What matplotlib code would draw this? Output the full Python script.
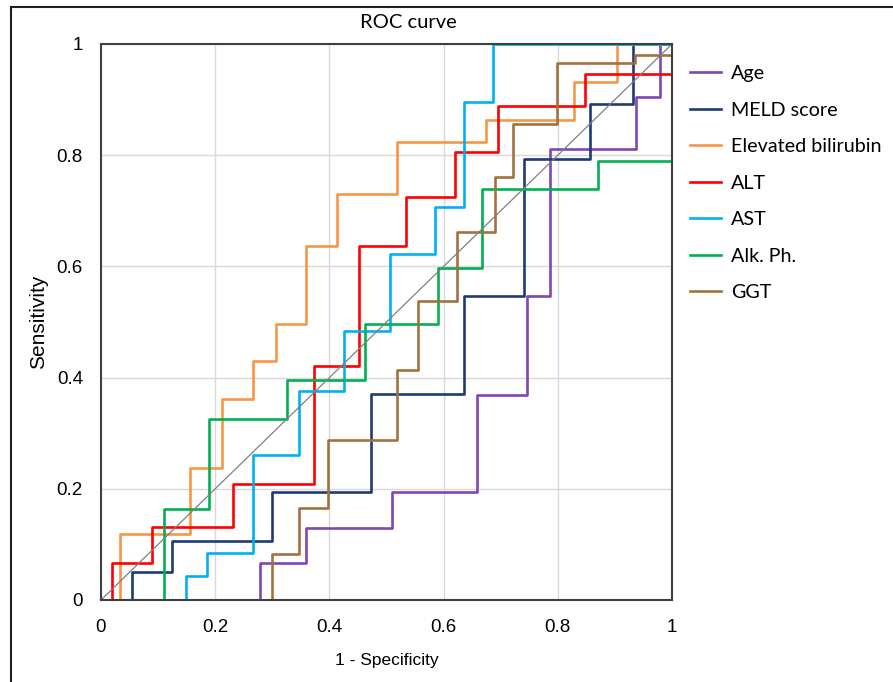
import numpy as np
import matplotlib.pyplot as plt
from matplotlib.lines import Line2D

# ROC step curves: x = 1 - specificity, y = sensitivity (steps-pre)
age_x = [0.278, 0.359, 0.51, 0.659, 0.746, 0.786, 0.937, 0.979, 1.0]
age_y = [0, 0.066, 0.13, 0.194, 0.369, 0.546, 0.812, 0.905, 1.0]

meld_x = [0.055, 0.125, 0.3, 0.473, 0.636, 0.741, 0.856, 0.931, 1.0]
meld_y = [0, 0.051, 0.106, 0.194, 0.371, 0.546, 0.793, 0.892, 1.0]

bili_x = [0.033, 0.156, 0.2125, 0.267, 0.306, 0.359, 0.413, 0.518, 0.674, 0.829, 0.903, 1.0]
bili_y = [0, 0.118, 0.237, 0.361, 0.43, 0.496, 0.637, 0.731, 0.824, 0.864, 0.932, 1.0]

alt_x = [0.02, 0.09, 0.232, 0.373, 0.452, 0.535, 0.62, 0.696, 0.848, 1.0]
alt_y = [0, 0.066, 0.132, 0.209, 0.42, 0.636, 0.725, 0.805, 0.888, 0.946]

ast_x = [0.148, 0.186, 0.266, 0.346, 0.426, 0.506, 0.585, 0.636, 0.687, 1.0]
ast_y = [0, 0.043, 0.084, 0.261, 0.376, 0.484, 0.622, 0.707, 0.896, 1.0]

alk_x = [0.111, 0.189, 0.325, 0.463, 0.591, 0.668, 0.871, 1.0]
alk_y = [0, 0.163, 0.325, 0.396, 0.496, 0.597, 0.739, 0.79]

ggt_x = [0.3, 0.347, 0.398, 0.519, 0.556, 0.623, 0.69, 0.722, 0.798, 0.935, 1.0]
ggt_y = [0, 0.082, 0.165, 0.287, 0.414, 0.537, 0.661, 0.761, 0.856, 0.965, 0.981]

labels = ['Age', 'MELD score', 'Elevated bilirubin', 'ALT', 'AST', 'Alk. Ph.', 'GGT']
colors = ['#7F46B6', '#1F3A75', '#F79646', '#FF0000', '#00B0F0', '#00B050', '#A0723F']
curves = [(age_x, age_y), (meld_x, meld_y), (bili_x, bili_y), (alt_x, alt_y),
          (ast_x, ast_y), (alk_x, alk_y), (ggt_x, ggt_y)]

ticks = [0, 0.2, 0.4, 0.6, 0.8, 1]
tick_labels = ['0', '0.2', '0.4', '0.6', '0.8', '1']

fig = plt.figure(figsize=(8.93, 6.82), dpi=100)
ax = fig.add_axes([101 / 893, 1 - 600 / 682, 571 / 893, 556 / 682])

for (x, y), c, lab in zip(curves, colors, labels):
    ax.plot(x, y, drawstyle='steps-pre', color=c, lw=1.9, label=lab)

ax.plot([0, 1], [0, 1], color='#808080', lw=0.9)

ax.set_xlim(0, 1)
ax.set_ylim(0, 1)
ax.set_xticks(ticks)
ax.set_yticks(ticks)
ax.set_xticklabels(tick_labels, family='Liberation Sans', fontsize=13.5)
ax.set_yticklabels(tick_labels, family='Liberation Sans', fontsize=13.5)
ax.tick_params(axis='x', length=0, pad=14)
ax.tick_params(axis='y', length=0, pad=13)
ax.grid(color='#D9D9D9', lw=1)
ax.set_axisbelow(True)
for s in ax.spines.values():
    s.set_color('#404040')
    s.set_linewidth(1.5)

fig.text(408 / 893, 1 - 23 / 682, 'ROC curve', family='Lato', fontsize=14.5,
         ha='center', va='center')
ax.set_xlabel('1 - Specificity', family='Liberation Sans', fontsize=12.5, labelpad=12)
ax.set_ylabel('Sensitivity', family='Liberation Sans', fontsize=15, labelpad=6)

leg = ax.legend(loc='upper left', bbox_to_anchor=(690 / 893, 1 - 65 / 682),
                bbox_transform=fig.transFigure, frameon=False,
                prop={'family': 'Lato', 'size': 14.2}, handlelength=1.55,
                handletextpad=0.55, labelspacing=0.99, borderaxespad=0, borderpad=0)

# outer frame (top and left edges)
fig.add_artist(Line2D([11 / 893, 1], [1 - 7 / 682, 1 - 7 / 682], color='#202020', lw=1.5))
fig.add_artist(Line2D([11 / 893, 11 / 893], [0, 1 - 7 / 682], color='#202020', lw=1.5))

fig.savefig('out.png', dpi=100)
